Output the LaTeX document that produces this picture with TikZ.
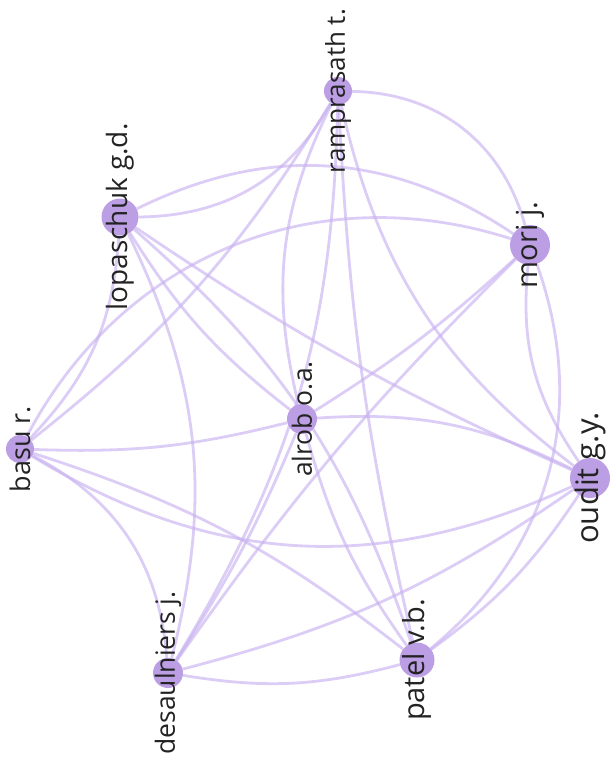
\documentclass[tikz,border=0pt]{standalone}
\usepackage{fontspec}
\setmainfont{Open Sans}
\usetikzlibrary{backgrounds}

\definecolor{linkcol}{RGB}{200,178,240}
\definecolor{itemcol}{RGB}{188,158,228}
\definecolor{labelcol}{RGB}{35,35,35}

\begin{document}
\begin{tikzpicture}[
				x=1pt, y=-1pt,
				author/.style={
					circle,
					fill=itemcol,
					inner sep=0pt
					},
				authorlabel/.style={
					rotate=90,
					text=labelcol,
					inner sep=0pt
					},
				link/.style={
					draw=linkcol,
					line width=2.8pt,
					draw opacity=.65
					}]
			    \useasboundingbox (0,0) rectangle (613,771);
			    % Place nodes
			    \node [author, minimum size=28] (ramprasath) at (338,91) {};
			    \node [author, minimum size=37] (lopaschuk) at (120,217) {};
			    \node [author, minimum size=40] (mori) at (530,245) {};
			    \node [author, minimum size=28] (basu) at (20,449) {};
			    \node [author, minimum size=30] (alrob) at (302,419) {};
			    \node [author, minimum size=40] (oudit) at (590,478) {};
			    \node [author, minimum size=30] (desaulniers) at (168,673) {};
			    \node [author, minimum size=35] (patel) at (417,660) {};

			    % Place labels
			    \node [authorlabel, font=\fontsize{26}{26}\selectfont] (ramprasath-l) at (ramprasath) {ramprasath t.};
			    \node [authorlabel, font=\fontsize{28}{28}\selectfont] (lopaschuk-l) at (lopaschuk) {lopaschuk g.d.};
			    \node [authorlabel, font=\fontsize{29}{29}\selectfont] (mori-l) at (mori) {mori j.};
			    \node [authorlabel, font=\fontsize{27}{27}\selectfont] (basu-l) at (basu) {basu r.};
			    \node [authorlabel, font=\fontsize{26.5}{26.5}\selectfont] (alrob-l) at (alrob) {alrob o.a.};
			    \node [authorlabel, font=\fontsize{31}{31}\selectfont] (oudit-l) at (oudit) {oudit g.y.};
			    \node [authorlabel, font=\fontsize{26.5}{26.5}\selectfont] (desaulniers-l) at (desaulniers) {desaulniers j.};
			    \node [authorlabel, font=\fontsize{29}{29}\selectfont] (patel-l) at (patel) {patel v.b.};

			    % Draw edges
			    \begin{scope}[on background layer]
			    \path [link] (ramprasath) to [bend left=37] (mori);
			    \path [link] (ramprasath) to [bend left=30] (lopaschuk);
			    \path [link] (ramprasath) to [bend right=20] (alrob);
			    \path [link] (ramprasath) to [bend right=5] (patel);
			    \path [link] (ramprasath) to [bend right=20] (oudit);
			    \path [link] (ramprasath) to [bend left=15] (desaulniers);
			    \path [link] (basu) to [bend right=10] (ramprasath);
			    \path [link] (lopaschuk) to [bend left=30] (mori);
			    \path [link] (lopaschuk) to [bend right=10] (alrob);
			    \path [link] (lopaschuk) to [bend right=5] (oudit);
			    \path [link] (lopaschuk) to [bend left=15] (patel);
			    \path [link] (lopaschuk) to [bend left=20] (desaulniers);
			    \path [link] (basu) to [bend right=20] (lopaschuk);
			    \path [link] (basu) to [bend left=40] (mori);
			    \path [link] (basu) to [bend right=8] (alrob);
			    \path [link] (basu) to [bend right=28] (oudit);
			    \path [link] (basu) to [bend left=10] (patel);
			    \path [link] (basu) to [bend left=29] (desaulniers);
			    \path [link] (mori) to [bend left=5] (alrob);
			    \path [link] (mori) to [bend right=20] (oudit);
			    \path [link] (mori) to [bend left=35] (patel);
			    \path [link] (mori) to [bend right=5] (desaulniers);
			    \path [link] (alrob) to [bend left=15] (oudit);
			    \path [link] (alrob) to [bend right=10] (patel);
			    \path [link] (alrob) to [bend left=5] (desaulniers);
			    \path [link] (oudit) to [bend left=10] (patel);
			    \path [link] (desaulniers) to [bend right=12] (patel);
			    \path [link] (desaulniers) to [bend right=10] (oudit);
			    \end{scope}
\end{tikzpicture}
\end{document}
